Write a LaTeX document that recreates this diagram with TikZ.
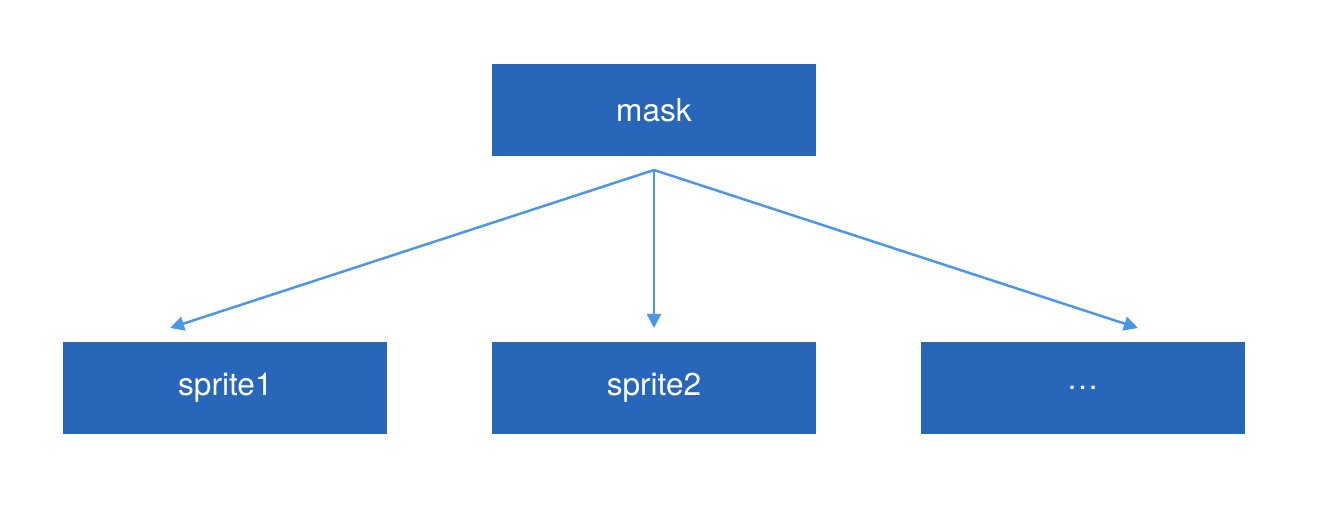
\documentclass[tikz,border=0pt]{standalone}
\usepackage{fontspec}
\setmainfont{TeX Gyre Heros}
\usetikzlibrary{positioning,arrows.meta}
\definecolor{boxblue}{HTML}{2866BA}
\definecolor{arrowblue}{HTML}{4A97E8}
\tikzset{
    box/.style={fill=boxblue,text=white,minimum width=6.48cm,minimum height=1.86cm,
        inner sep=0pt,font=\fontsize{18}{20}\selectfont},
    link/.style={draw=arrowblue,line width=1.4pt,-{Triangle[length=8pt,width=8pt]}}
}
\begin{document}
\begin{tikzpicture}[x=0.02cm,y=-0.02cm]
    \useasboundingbox (0,0) rectangle (1318,510);

    \node[box] (mask) at (654,110) {mask};
    \node[box] (s2) at (654,388) {sprite2};
    \node[box,left=2.08cm of s2] (s1) {sprite1};
    \node[box,right=2.08cm of s2] (s3) {\dots};

    \coordinate (src) at (654,170);
    \coordinate (t1) at (170,328);
    \coordinate (t2) at (654,328);
    \coordinate (t3) at (1138,328);

    \draw[link] (src) -- (t1);
    \draw[link] (src) -- (t2);
    \draw[link] (src) -- (t3);
\end{tikzpicture}
\end{document}
